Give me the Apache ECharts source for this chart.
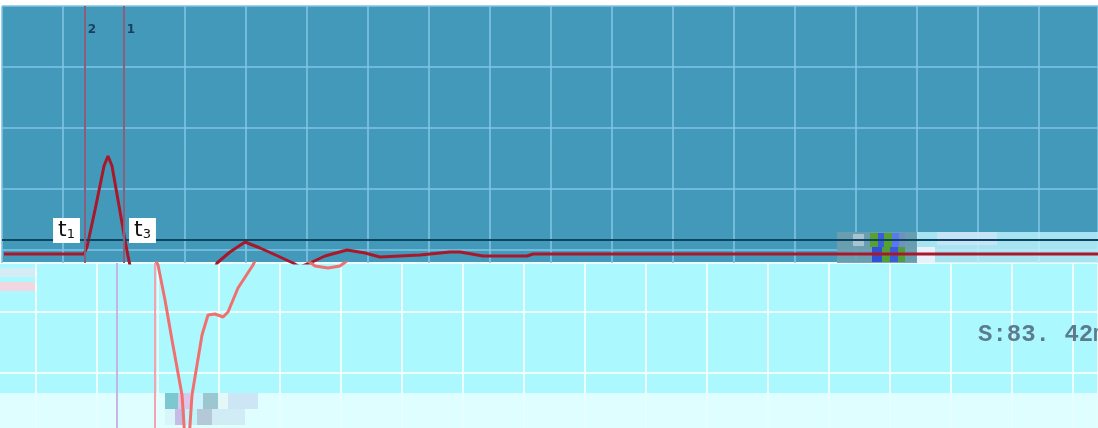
<!DOCTYPE html>
<html>
<head>
<meta charset="utf-8">
<script src="https://cdn.jsdelivr.net/npm/echarts@6/dist/echarts.min.js"></script>
<style>
html,body{margin:0;padding:0;background:#ffffff;}
#chart{width:1098px;height:428px;}
</style>
</head>
<body>
<div id="chart"></div>
<script>
// ---- data (arbitrary units) ----
// upper trace: time and amplitude
const topTime = [2, 82, 85, 93, 102, 106, 110, 116, 123, 126, 130, 138, 203, 215, 228, 243, 258, 278, 291, 298, 308, 323, 345, 363, 378, 398, 418, 448, 458, 481, 525, 531, 1096];
const topAmp  = [0, 0, 7, 44, 88, 98, 88, 54, 14, -2, -21, -46, -46, -9, 2, 12, 6, -3, -9, -13, -9, -2, 4, 1, -3, -2, -1, 2, 2, -2, -2, 0, 0];
// lower trace
const lowTime = [175, 183, 190, 197, 207, 210, 214, 217, 222, 227, 233, 240, 248, 253, 263, 278, 285, 325, 340, 353, 365, 380];
const lowAmp  = [184, 169, 134, 94, 39, -6, -6, 39, 69, 99, 119, 120, 117, 122, 146, 169, 184, 179, 168, 166, 168, 179];
// cursors
const topCursors = [83, 122];
const topCursorNames = ['2', '1'];
const lowCursors = [142, 180];
const baselineLevel = 14;
// time marker labels
const markerNames = ['1', '3'];
const markerTime = [64.5, 140.5];
const markerAmp = [23.5, 23.5];
const readout = 'S:83. 42m';

function pairs(xs, ys) { return xs.map((x, i) => [x, ys[i]]); }
function area(x1, x2, y1, y2, color, opacity) {
  return [{ xAxis: x1, yAxis: y1, itemStyle: { color: color, opacity: opacity == null ? 1 : opacity } }, { xAxis: x2, yAxis: y2 }];
}

const chart = echarts.init(document.getElementById('chart'), null, { renderer: 'canvas' });

const hidden = { axisLine: { show: false }, axisTick: { show: false }, axisLabel: { show: false } };
const topGridLine = { show: true, lineStyle: { color: '#80c4e4', width: 1.6 } };
const lowGridLine = { show: true, lineStyle: { color: '#eefeff', width: 2 } };

const option = {
  animation: false,
  backgroundColor: '#ffffff',
  title: {
    text: readout, left: 978, top: 323, padding: 0,
    textStyle: { fontFamily: 'Liberation Mono', fontSize: 24, fontWeight: 'bold', color: '#5b7c8e' }
  },
  grid: [
    { left: 2, top: 6, width: 1096, height: 257, show: true, backgroundColor: '#4399ba', borderWidth: 0, outerBoundsMode: 'none' },
    { left: -25, top: 263, width: 1123, height: 171, show: true, backgroundColor: '#acf8ff', borderWidth: 0, outerBoundsMode: 'none' }
  ],
  xAxis: [
    Object.assign({ type: 'value', gridIndex: 0, min: 0, max: 1096, interval: 61, splitLine: topGridLine }, hidden),
    Object.assign({ type: 'value', gridIndex: 1, min: 0, max: 1123, interval: 61, splitLine: lowGridLine }, hidden)
  ],
  yAxis: [
    Object.assign({ type: 'value', gridIndex: 0, min: 0, max: 257, interval: 61, inverse: true, splitLine: topGridLine }, hidden),
    Object.assign({ type: 'value', gridIndex: 0, min: -9, max: 248, splitLine: { show: false } }, hidden),
    Object.assign({ type: 'value', gridIndex: 1, min: 0, max: 171, interval: 61, splitLine: lowGridLine }, hidden)
  ],
  series: [
    {
      name: 'baseline', type: 'line', xAxisIndex: 0, yAxisIndex: 1, data: [], z: 1,
      markLine: {
        silent: true, symbol: 'none', label: { show: false },
        data: [
          { yAxis: baselineLevel, lineStyle: { color: '#0e4560', width: 2, type: 'solid' } }
        ].concat(topCursors.map(c => ({ xAxis: c, lineStyle: { color: '#8a5e7c', width: 2, type: 'solid' } })))
      }
    },
    {
      name: 'upper', type: 'line', xAxisIndex: 0, yAxisIndex: 1, data: pairs(topTime, topAmp),
      showSymbol: false, symbol: 'none', clip: true, z: 3,
      lineStyle: { color: '#a8182a', width: 3 }
    },
    {
      name: 'lowerCursors', type: 'line', xAxisIndex: 1, yAxisIndex: 2, data: [], z: 1,
      markLine: {
        silent: true, symbol: 'none', label: { show: false },
        data: [
          { xAxis: lowCursors[0], lineStyle: { color: '#c6b4e6', width: 2, type: 'solid' } },
          { xAxis: lowCursors[1], lineStyle: { color: '#f2a2b2', width: 2, type: 'solid' } }
        ]
      }
    },
    {
      name: 'lower', type: 'line', xAxisIndex: 1, yAxisIndex: 2, data: pairs(lowTime, lowAmp),
      showSymbol: false, symbol: 'none', clip: true, z: 3,
      lineStyle: { color: '#f07070', width: 3 }
    },
    {
      name: 'upperPatches', type: 'line', xAxisIndex: 0, yAxisIndex: 1, data: [], z: 5,
      markArea: {
        silent: true,
        data: [
          area(835, 915, -9, 22, '#6e9fb0', 0.9),
          area(851, 862, 8, 20, '#a8c4d0', 1),
          area(868, 876, 7, 21, '#58a030'),
          area(876, 882, 7, 21, '#3c5ce0'),
          area(882, 890, 7, 21, '#58a030'),
          area(890, 897, 7, 21, '#5a78f0'),
          area(897, 903, 7, 21, '#7090c0'),
          area(870, 880, -8, 7, '#3050d8'),
          area(880, 888, -8, 7, '#50a038'),
          area(888, 896, -8, 7, '#3a5ad8'),
          area(896, 903, -8, 7, '#50a038'),
          area(915, 1096, -9, 22, '#c2f5ff', 0.8),
          area(915, 933, -9, 7, '#eef2fa', 0.9),
          area(935, 995, 9, 22, '#d4e4fa', 0.7)
        ]
      }
    },
    {
      name: 'lowerPatches', type: 'line', xAxisIndex: 1, yAxisIndex: 2, data: [], z: 5,
      markArea: {
        silent: true,
        data: [
          area(0, 1123, 0, 41, '#e6feff', 0.88),
          area(190, 203, 25, 41, '#7cc8d0'),
          area(203, 215, 25, 41, '#dcc6ea'),
          area(215, 228, 25, 41, '#caf2ff'),
          area(228, 243, 25, 41, '#9cc6d0'),
          area(243, 253, 25, 41, '#e4f8f8'),
          area(253, 283, 25, 41, '#cce6f6'),
          area(190, 200, 9, 25, '#d8f6fa'),
          area(200, 210, 9, 25, '#c4bce4'),
          area(210, 222, 9, 25, '#bff4fa'),
          area(222, 237, 9, 25, '#b4c8d8'),
          area(237, 270, 9, 25, '#d2ecf6'),
          area(25, 60, 157, 166, '#d4ecf6'),
          area(25, 60, 143, 152, '#f2d6e2')
        ]
      }
    },
    {
      name: 'cursorNames', type: 'scatter', xAxisIndex: 0, yAxisIndex: 1, z: 6, silent: true,
      symbolSize: 0, itemStyle: { opacity: 1 },
      data: topCursors.map((c, i) => ({ value: [c + 7, 224], name: topCursorNames[i] })),
      label: {
        show: true, position: 'inside', formatter: p => p.name,
        fontFamily: 'DejaVu Sans', fontSize: 12, fontWeight: 'bold', color: '#1c3f60'
      }
    },
    {
      name: 'markers', type: 'scatter', xAxisIndex: 0, yAxisIndex: 1, z: 7, silent: true,
      symbolSize: 0, itemStyle: { opacity: 1 },
      data: markerTime.map((t, i) => ({ value: [t, markerAmp[i]], name: markerNames[i] })),
      label: {
        show: true, position: 'inside', opacity: 1,
        formatter: p => '{t|t}{s|' + p.name + '}',
        backgroundColor: '#ffffff', padding: [2, 5, 2, 5],
        rich: {
          t: { fontFamily: 'DejaVu Sans', fontSize: 22, color: '#111111', lineHeight: 21, verticalAlign: 'bottom' },
          s: { fontFamily: 'DejaVu Sans', fontSize: 13, color: '#111111', lineHeight: 21, verticalAlign: 'bottom' }
        }
      }
    }
  ]
};
chart.setOption(option);
</script>
</body>
</html>
